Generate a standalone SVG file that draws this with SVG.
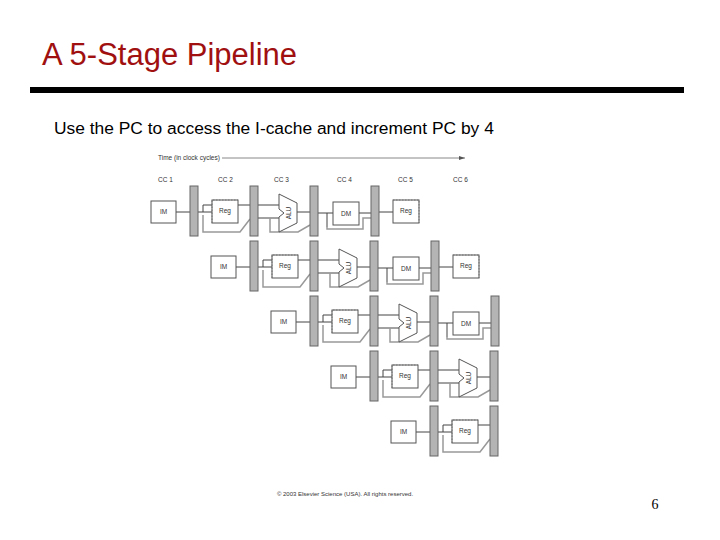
<svg xmlns="http://www.w3.org/2000/svg" xmlns:xlink="http://www.w3.org/1999/xlink" width="720" height="540" viewBox="0 0 720 540">
<style>
.box{fill:#fff;stroke:#555;stroke-width:1}
.bar{fill:#b4b4b4;stroke:#666;stroke-width:1}
.w{fill:none;stroke:#444;stroke-width:1}
.g{fill:none;stroke:#999;stroke-width:1.5}
.dot{fill:none;stroke:#777;stroke-width:1;stroke-dasharray:1.5 1.5}
.t{font-family:"Liberation Sans",Arial,sans-serif;font-size:6.5px;fill:#333}
</style>
<defs>
<g id="im"><rect class="box" x="151" y="201" width="25" height="22"/><text class="t" x="163.5" y="214" text-anchor="middle">IM</text></g>
<g id="bar"><rect class="bar" x="0" y="186" width="8" height="50"/></g>
<g id="regid"><rect class="box" x="212" y="200" width="26" height="23"/><path class="dot" d="M212,223 V200 H238"/><text class="t" x="225" y="213" text-anchor="middle">Reg</text></g>
<g id="alu"><path class="box" d="M279,194 L297,203 L297,223 L279,232 L279,217 L284,213 L279,209 Z"/><text class="t" transform="translate(291,213) rotate(-90)" text-anchor="middle">ALU</text></g>
<g id="dm"><rect class="box" x="333" y="202" width="26" height="23"/><text class="t" x="346" y="216" text-anchor="middle">DM</text></g>
<g id="regwb"><rect class="box" x="393" y="200" width="26" height="23"/><path class="dot" d="M393,200 H419 V223"/><text class="t" x="406" y="213" text-anchor="middle">Reg</text></g>
<g id="wif"><path class="w" d="M176,212 H190"/></g>
<g id="wid"><path class="w" d="M198,212 H212 M203,212 V205 H212 M238,205 H250"/><path class="g" d="M203,215 V232 H240 L250,219"/></g>
<g id="wex"><path class="w" d="M258,205 H281 M258,218 H281 M297,212 H310"/><path class="g" d="M270,218 V232 H298 L310,225"/></g>
<g id="wmem"><path class="w" d="M318,213 H333 M359,213 H371 M327,213 V227"/><path class="g" d="M327,227 V229 H363 V218 H371"/></g>
<g id="wwb"><path class="w" d="M379,212 H393"/></g>
<marker id="ah" markerWidth="6" markerHeight="4" refX="6" refY="2" orient="auto"><path d="M0,0 L6,2 L0,4 Z" fill="#555"/></marker>
</defs>
<rect width="720" height="540" fill="#fff"/>
<text x="42" y="65" font-family="Liberation Sans,Arial,sans-serif" font-size="31" fill="#a01010">A 5-Stage Pipeline</text>
<rect x="30" y="87" width="654" height="6" fill="#000"/>
<text x="54" y="134" font-family="Liberation Sans,Arial,sans-serif" font-size="17.4" fill="#000">Use the PC to access the I-cache and increment PC by 4</text>
<g id="timeaxis"><text class="t" x="158" y="160">Time (in clock cycles)</text><path d="M222,158 H465" stroke="#888" stroke-width="1" marker-end="url(#ah)"/></g>
<g id="cc" class="t"><text x="158" y="182">CC 1</text><text x="218" y="182">CC 2</text><text x="274" y="182">CC 3</text><text x="337" y="182">CC 4</text><text x="398" y="182">CC 5</text><text x="453" y="182">CC 6</text></g>
<g id="connectors">
<use xlink:href="#wif"/><use xlink:href="#wid"/><use xlink:href="#wex"/><use xlink:href="#wmem"/><use xlink:href="#wwb"/>
<g transform="translate(60,55)"><use xlink:href="#wif"/><use xlink:href="#wid"/><use xlink:href="#wex"/><use xlink:href="#wmem"/><use xlink:href="#wwb"/></g>
<g transform="translate(120,110)"><use xlink:href="#wif"/><use xlink:href="#wid"/><use xlink:href="#wex"/><use xlink:href="#wmem"/></g>
<g transform="translate(180,165)"><use xlink:href="#wif"/><use xlink:href="#wid"/><use xlink:href="#wex"/></g>
<g transform="translate(240,220)"><use xlink:href="#wif"/><use xlink:href="#wid"/></g>
</g>
<g id="row1"><use xlink:href="#im"/><use xlink:href="#bar" x="190"/><use xlink:href="#regid"/><use xlink:href="#bar" x="250"/><use xlink:href="#alu"/><use xlink:href="#bar" x="310"/><use xlink:href="#dm"/><use xlink:href="#bar" x="371"/><use xlink:href="#regwb"/></g>
<g id="row2" transform="translate(60,55)"><use xlink:href="#im"/><use xlink:href="#bar" x="190"/><use xlink:href="#regid"/><use xlink:href="#bar" x="250"/><use xlink:href="#alu"/><use xlink:href="#bar" x="310"/><use xlink:href="#dm"/><use xlink:href="#bar" x="371"/><use xlink:href="#regwb"/></g>
<g id="row3" transform="translate(120,110)"><use xlink:href="#im"/><use xlink:href="#bar" x="190"/><use xlink:href="#regid"/><use xlink:href="#bar" x="250"/><use xlink:href="#alu"/><use xlink:href="#bar" x="310"/><use xlink:href="#dm"/><use xlink:href="#bar" x="371"/></g>
<g id="row4" transform="translate(180,165)"><use xlink:href="#im"/><use xlink:href="#bar" x="190"/><use xlink:href="#regid"/><use xlink:href="#bar" x="250"/><use xlink:href="#alu"/><use xlink:href="#bar" x="310"/></g>
<g id="row5" transform="translate(240,220)"><use xlink:href="#im"/><use xlink:href="#bar" x="190"/><use xlink:href="#regid"/><use xlink:href="#bar" x="250"/></g>
<text x="345" y="496" text-anchor="middle" font-family="Liberation Sans,Arial,sans-serif" font-size="6" fill="#333">© 2003 Elsevier Science (USA). All rights reserved.</text>
<text x="655" y="509" text-anchor="middle" font-family="Liberation Serif,Times New Roman,serif" font-size="14" fill="#000">6</text>
</svg>
